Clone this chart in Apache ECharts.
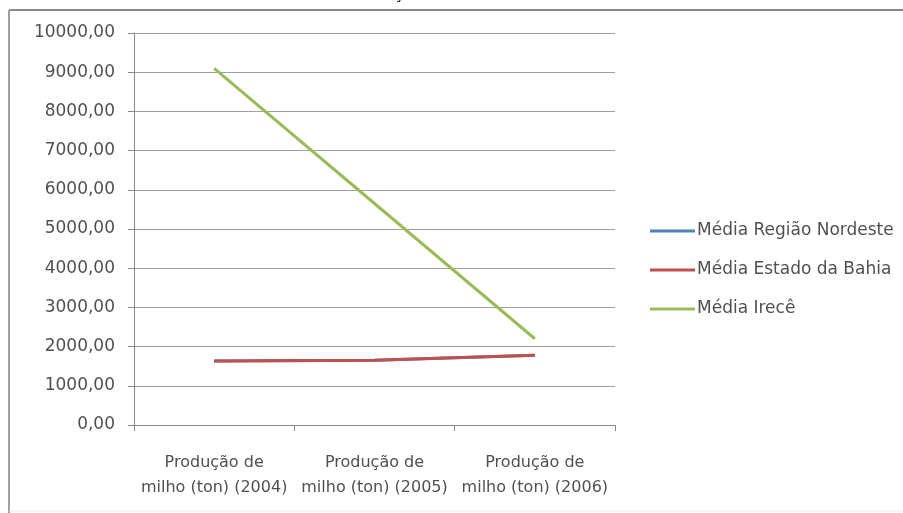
<!DOCTYPE html>
<html>
<head>
<meta charset="utf-8">
<script src="https://cdn.jsdelivr.net/npm/echarts@6/dist/echarts.min.js"></script>
<style>
  html, body { margin: 0; padding: 0; background: #fff; }
  #chart { width: 903px; height: 513px; }
</style>
</head>
<body>
<div id="chart"></div>
<script>
// Categories on the x axis
const categories = [
  'Produção de\nmilho (ton) (2004)',
  'Produção de\nmilho (ton) (2005)',
  'Produção de\nmilho (ton) (2006)'
];

// Series values (tons)
const nordeste = [1630, 1650, 1780];
const bahia = [1630, 1650, 1780];
const irece = [9100, 5650, 2200];

const seriesNames = ['Média Região Nordeste', 'Média Estado da Bahia', 'Média Irecê'];
const seriesColors = ['#4F81BD', '#C0504D', '#9BBB59'];

const fontFamily = '"DejaVu Sans", "Open Sans", sans-serif';
const textColor = '#505050';

const chart = echarts.init(document.getElementById('chart'));

const makeSeries = (name, data, color, z) => ({
  name: name,
  type: 'line',
  data: data,
  symbol: 'none',
  z: z,
  lineStyle: { color: color, width: 3 },
  itemStyle: { color: color }
});

chart.setOption({
  animation: false,
  backgroundColor: '#ffffff',
  graphic: [
    // chart frame: top and left edges, faint bottom edge
    {
      type: 'line',
      shape: { x1: 9, y1: 10, x2: 903, y2: 10 },
      style: { stroke: '#8c8c8c', lineWidth: 2 }
    },
    {
      type: 'line',
      shape: { x1: 9, y1: 10, x2: 9, y2: 513 },
      style: { stroke: '#a0a0a0', lineWidth: 2 }
    },
    {
      type: 'line',
      shape: { x1: 9, y1: 511, x2: 903, y2: 511 },
      style: { stroke: '#ececec', lineWidth: 1 }
    },
    // chart title, mostly above the top edge of the canvas
    {
      type: 'text',
      x: 345,
      y: 2,
      style: {
        text: 'Produção de milho',
        font: '17px ' + fontFamily,
        fill: '#222',
        verticalAlign: 'bottom'
      }
    }
  ],
  grid: { left: 134, top: 33, width: 481, height: 392, containLabel: false },
  legend: {
    orient: 'vertical',
    left: 645,
    top: 216,
    itemGap: 19,
    itemWidth: 45,
    itemHeight: 3,
    icon: 'rect',
    textStyle: { fontFamily: fontFamily, fontSize: 17, lineHeight: 20, color: textColor, padding: [0, 0, 0, -3] },
    data: seriesNames
  },
  xAxis: {
    type: 'category',
    data: categories,
    boundaryGap: true,
    axisLine: { show: true, lineStyle: { color: '#8a8a8a', width: 1 } },
    axisTick: { show: true, length: 6, alignWithLabel: false, lineStyle: { color: '#8a8a8a' } },
    axisLabel: {
      interval: 0,
      margin: 25,
      fontFamily: fontFamily,
      fontSize: 16,
      color: textColor,
      lineHeight: 25,
      align: 'center'
    },
    splitLine: { show: false }
  },
  yAxis: {
    type: 'value',
    min: 0,
    max: 10000,
    interval: 1000,
    axisLine: { show: true, lineStyle: { color: '#8a8a8a', width: 1 } },
    axisTick: { show: true, length: 6, lineStyle: { color: '#8a8a8a' } },
    axisLabel: {
      margin: 19,
      fontFamily: fontFamily,
      fontSize: 17,
      color: textColor,
      formatter: v => v.toFixed(2).replace('.', ',')
    },
    splitLine: { show: true, lineStyle: { color: '#a0a0a0', width: 1 } }
  },
  series: [
    makeSeries(seriesNames[0], nordeste, seriesColors[0], 2),
    makeSeries(seriesNames[1], bahia, seriesColors[1], 3),
    makeSeries(seriesNames[2], irece, seriesColors[2], 4)
  ]
});
</script>
</body>
</html>
